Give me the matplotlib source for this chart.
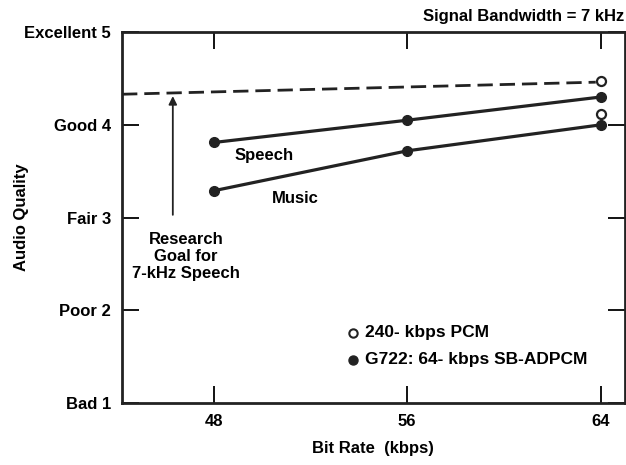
import matplotlib.pyplot as plt

plt.rcParams['font.family'] = ['Liberation Sans', 'DejaVu Sans']

# Bit rates (kbps)
bit_rates = [48, 56, 64]
speech_quality = [3.81, 4.05, 4.30]
music_quality = [3.29, 3.72, 4.00]

# 240-kbps PCM reference points at 64 kbps position
pcm_x = [64, 64]
pcm_quality = [4.47, 4.12]

# research goal (dashed line, slightly tilted in the scan)
goal_x = [44.2, 63.8]
goal_y = [4.33, 4.46]
arrow_x = 46.3
arrow_from = 3.0

y_ticks = [1, 2, 3, 4, 5]
y_labels = ["Bad 1", "Poor 2", "Fair 3", "Good 4", "Excellent 5"]

FS = 12

fig = plt.figure(figsize=(6.26, 4.65), dpi=100)
ax = fig.add_axes([0.195, 0.133, 0.803, 0.798])

ax.plot(goal_x, goal_y, color='#222222', linestyle=(0, (5.5, 2.5)), linewidth=2.0)
ax.plot(bit_rates, speech_quality, color='#222222', linewidth=2.3,
        marker='o', markersize=7)
ax.plot(bit_rates, music_quality, color='#222222', linewidth=2.3,
        marker='o', markersize=7)
ax.plot(pcm_x, pcm_quality, linestyle='none', marker='o', markersize=6.5,
        markerfacecolor='white', markeredgecolor='#222222', markeredgewidth=1.6)

ax.annotate("", xy=(arrow_x, goal_y[0] + 0.01), xytext=(arrow_x, arrow_from),
            arrowprops=dict(arrowstyle='-|>', color='#222222', lw=1.3,
                            mutation_scale=12))

ax.text(46.85, 2.58, "Research\nGoal for\n7-kHz Speech", ha='center', va='center',
        fontsize=FS, fontweight='bold', linespacing=1.15)
ax.text(48.85, 3.67, "Speech", fontsize=FS, fontweight='bold', va='center')
ax.text(50.4, 3.21, "Music", fontsize=FS, fontweight='bold', va='center')

# legend drawn as text with markers
ax.plot([53.75], [1.76], marker='o', markersize=6, markerfacecolor='white',
        markeredgecolor='#222222', markeredgewidth=1.5, linestyle='none')
ax.plot([53.75], [1.47], marker='o', markersize=6.5, color='#222222',
        linestyle='none')
ax.text(54.25, 1.76, "240- kbps PCM", fontsize=12.5, fontweight='bold', va='center')
ax.text(54.25, 1.47, "G722: 64- kbps SB-ADPCM", fontsize=12.5, fontweight='bold',
        va='center')

ax.set_xlim(44.2, 65.0)
ax.set_ylim(1.0, 4.98)
ax.set_xticks(bit_rates)
ax.set_yticks(y_ticks)
ax.set_yticklabels(y_labels)
ax.tick_params(direction='in', length=12, width=1.3, top=True, right=True,
               labelsize=FS, pad=8)
for lab in ax.get_xticklabels() + ax.get_yticklabels():
    lab.set_fontweight('bold')
for s in ax.spines.values():
    s.set_linewidth(2.0)
    s.set_color('#222222')

ax.set_xlabel("Bit Rate  (kbps)", fontsize=FS, fontweight='bold')
ax.xaxis.set_label_coords(0.5, -0.103)
ax.set_ylabel("Audio Quality", fontsize=FS, fontweight='bold')
ax.yaxis.set_label_coords(-0.185, 0.5)

fig.text(0.998, 0.965, "Signal Bandwidth = 7 kHz", ha='right', va='center',
         fontsize=FS, fontweight='bold')

fig.savefig("out.png", dpi=100)
